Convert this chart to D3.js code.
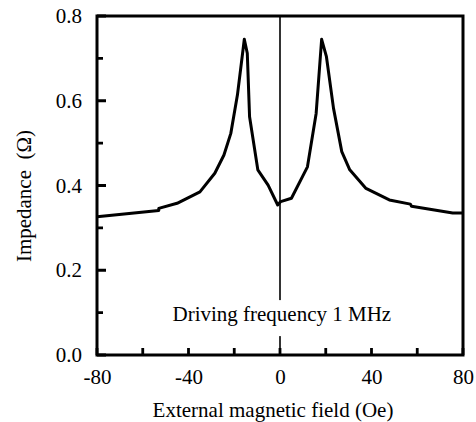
<!DOCTYPE html>
<html lang="en">
<head>
    <meta charset="UTF-8">
    <title>Impedance vs field</title>
    <script src="https://d3js.org/d3.v7.min.js"></script>
    <style>
        body { margin: 0; background: #fff; }
        svg { display: block; }
        svg text { font-family: "Liberation Serif", "Times New Roman", serif; font-size: 21px; fill: #000; }
    </style>
</head>
<body>
    <div id="chart"></div>
    <script>
        // values
        const fieldOe = [-80, -53, -53, -45, -35, -28.5, -24.5, -21.5, -18.6, -15.6, -14.3, -13.3, -9.7, -5.2, -1,
            0.3, 5, 12, 15.8, 18.2, 20.3, 23.4, 27, 30.5, 37.6, 47.8, 57, 57.5, 75.5, 80];
        const impedanceOhm = [0.326, 0.341, 0.346, 0.358, 0.385, 0.429, 0.472, 0.523, 0.614, 0.745, 0.712, 0.562, 0.437, 0.401, 0.354,
            0.362, 0.370, 0.444, 0.57, 0.745, 0.704, 0.582, 0.48, 0.437, 0.393, 0.366, 0.356, 0.351, 0.335, 0.335];

        const xTicks = [-80, -60, -40, -20, 0, 20, 40, 60, 80];
        const xLabelTicks = [-80, -40, 0, 40, 80];
        const yMajorTicks = [0.0, 0.2, 0.4, 0.6, 0.8];
        const yMinorTicks = [0.1, 0.3, 0.5, 0.7];
        const note = "Driving frequency 1 MHz";
        const xTitle = "External magnetic field (Oe)";
        const yTitle = "Impedance\u00a0\u00a0(\u03a9)";

        const w = 476;
        const h = 422;
        const plotLeft = 97, plotRight = 463, plotTop = 16, plotBottom = 355;

        const x = d3.scaleLinear().domain([-80, 80]).range([plotLeft, plotRight]);
        const y = d3.scaleLinear().domain([0, 0.8]).range([plotBottom, plotTop]);

        const svg = d3.select("#chart")
            .append("svg")
            .attr("width", w)
            .attr("height", h);

        // frame and inward ticks
        svg.append("path")
            .attr("d", `M${plotLeft},${plotTop}H${plotRight}V${plotBottom}H${plotLeft}Z`)
            .attr("fill", "none")
            .attr("stroke", "#000")
            .attr("stroke-width", 3);

        const tickPath = d3.path();
        xTicks.forEach(d => { tickPath.moveTo(x(d), plotBottom); tickPath.lineTo(x(d), plotBottom - 7); });
        yMajorTicks.forEach(d => { tickPath.moveTo(plotLeft, y(d)); tickPath.lineTo(plotLeft + 9, y(d)); });
        yMinorTicks.forEach(d => { tickPath.moveTo(plotLeft, y(d)); tickPath.lineTo(plotLeft + 6, y(d)); });
        svg.append("path")
            .attr("d", tickPath.toString())
            .attr("fill", "none")
            .attr("stroke", "#000")
            .attr("stroke-width", 2.8);

        // x = 0 reference line
        svg.append("line")
            .attr("x1", x(0)).attr("x2", x(0))
            .attr("y1", y(0.8)).attr("y2", y(0))
            .attr("stroke", "#000")
            .attr("stroke-width", 1.6);

        // note with white box that breaks the centre line
        const noteG = svg.append("g");
        const noteText = noteG.append("text")
            .attr("x", x(-47))
            .attr("y", y(0.08))
            .text(note);
        const bb = noteText.node().getBBox();
        noteG.insert("rect", "text")
            .attr("x", bb.x - 2)
            .attr("y", bb.y - 2)
            .attr("width", bb.width + 4)
            .attr("height", bb.height + 12)
            .attr("fill", "#fff");

        const line = d3.line()
            .x((d, i) => x(fieldOe[i]))
            .y((d, i) => y(impedanceOhm[i]));

        svg.append("path")
            .datum(fieldOe)
            .attr("d", line)
            .attr("fill", "none")
            .attr("stroke", "#000")
            .attr("stroke-width", 3)
            .attr("stroke-linejoin", "round");

        // axis labels from d3 axes
        const xAxis = svg.append("g")
            .attr("transform", `translate(0,${plotBottom})`)
            .call(d3.axisBottom(x)
                .tickValues(xLabelTicks)
                .tickSize(0)
                .tickPadding(14)
                .tickFormat(d => String(d)));

        const yAxis = svg.append("g")
            .attr("transform", `translate(${plotLeft},0)`)
            .call(d3.axisLeft(y)
                .tickValues(yMajorTicks)
                .tickSize(0)
                .tickPadding(15)
                .tickFormat(d3.format(".1f")));

        [xAxis, yAxis].forEach(g => {
            g.attr("font-family", null).attr("font-size", null);
            g.select(".domain").remove();
            g.selectAll(".tick line").remove();
        });

        svg.append("text")
            .attr("x", 273)
            .attr("y", 417)
            .attr("text-anchor", "middle")
            .text(xTitle);

        svg.append("text")
            .attr("transform", "translate(31,196) rotate(-90)")
            .attr("text-anchor", "middle")
            .text(yTitle);
    </script>
</body>
</html>
